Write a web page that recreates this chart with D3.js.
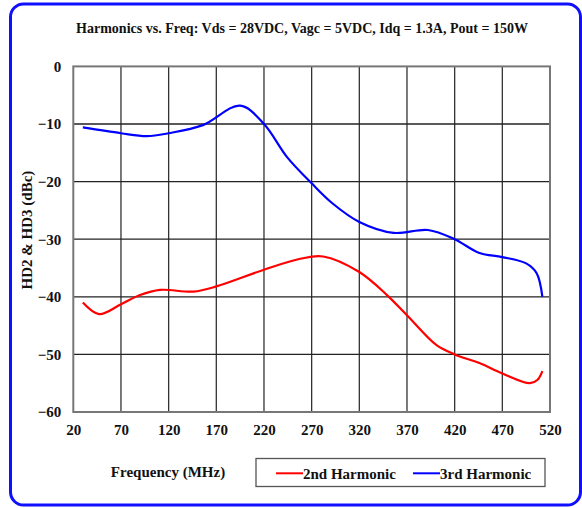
<!DOCTYPE html>
<html><head><meta charset="utf-8">
<script src="https://cdn.jsdelivr.net/npm/d3@7/dist/d3.min.js"></script>
<style>body{margin:0;background:#fff}svg{display:block}text{font-family:"Liberation Serif","Times New Roman",serif;font-weight:bold;fill:#111}</style>
</head><body>
<script>
const xTicks = [20,70,120,170,220,270,320,370,420,470,520];
const yTicks = [0,-10,-20,-30,-40,-50,-60];
const hd2Freq = [30,47,70,90,111,146,170,220,258,282,320,349,370,401,420,446,470,499,507,512];
const hd2Val  = [-41.0,-43.0,-41.3,-39.7,-38.8,-39.1,-38.2,-35.3,-33.4,-33.0,-35.7,-39.7,-43.2,-48.4,-50.0,-51.5,-53.3,-55.0,-54.4,-52.9];
const hd3Freq = [30,70,97,120,156,195,220,244,270,292,320,356,392,420,446,470,495,506,512];
const hd3Val  = [-10.6,-11.6,-12.1,-11.6,-10.2,-6.8,-10.0,-15.7,-20.3,-23.8,-27.0,-28.9,-28.4,-30.0,-32.4,-33.1,-34.2,-35.9,-40.0];
const seriesNames = ["2nd Harmonic","3rd Harmonic"];
const seriesColors = ["#ff0000","#0000ff"];

const W=582,H=508;
const svg=d3.select("body").append("svg").attr("width",W).attr("height",H);
svg.append("rect").attr("x",10.5).attr("y",4).attr("width",570).attr("height",501).attr("rx",13)
  .attr("fill","#fff").attr("stroke","#1010ff").attr("stroke-width",3);

const L=73.3,R=550,T=66.4,B=412;
const x=d3.scaleLinear().domain([20,520]).range([L,R]);
const y=d3.scaleLinear().domain([-60,0]).range([B,T]);

svg.append("text").attr("x",302).attr("y",33).attr("text-anchor","middle").attr("font-size",14)
  .text("Harmonics vs. Freq: Vds = 28VDC, Vagc = 5VDC, Idq = 1.3A, Pout = 150W");

const g=svg.append("g");
g.selectAll("line.vx").data(xTicks.slice(1,-1)).enter().append("line")
  .attr("x1",d=>x(d)).attr("x2",d=>x(d)).attr("y1",T).attr("y2",B).attr("stroke","#333").attr("stroke-width",1.3);
g.selectAll("line.hy").data(yTicks.slice(1,-1)).enter().append("line")
  .attr("y1",d=>y(d)).attr("y2",d=>y(d)).attr("x1",L).attr("x2",R).attr("stroke","#222").attr("stroke-width",1.3);
g.append("rect").attr("x",L).attr("y",T).attr("width",R-L).attr("height",B-T).attr("fill","none").attr("stroke","#777").attr("stroke-width",2);

const xa=svg.append("g").attr("transform",`translate(0,${B})`)
  .call(d3.axisBottom(x).tickValues(xTicks).tickSize(0).tickPadding(12).tickFormat(d3.format("d")));
xa.select(".domain").remove();
xa.selectAll("text").attr("font-size",15).attr("font-family","Liberation Serif").attr("font-weight","bold").attr("fill","#111");
const ya=svg.append("g").attr("transform",`translate(${L},0)`)
  .call(d3.axisLeft(y).tickValues(yTicks).tickSize(0).tickPadding(12).tickFormat(d3.format("d")));
ya.select(".domain").remove();
ya.selectAll("text").attr("font-size",15).attr("font-family","Liberation Serif").attr("font-weight","bold").attr("fill","#111");

svg.append("text").attr("transform","translate(32,230) rotate(-90)").attr("text-anchor","middle").attr("font-size",15)
  .text("HD2 & HD3 (dBc)");
svg.append("text").attr("x",168).attr("y",477).attr("text-anchor","middle").attr("font-size",15).text("Frequency (MHz)");

const line=d3.line().x(d=>x(d[0])).y(d=>y(d[1])).curve(d3.curveCatmullRom.alpha(0.5));
const series=[d3.zip(hd2Freq,hd2Val),d3.zip(hd3Freq,hd3Val)];
series.forEach((s,i)=>{
  svg.append("path").datum(s).attr("d",line).attr("fill","none").attr("stroke",seriesColors[i]).attr("stroke-width",2.2);
});

// legend
svg.append("rect").attr("x",256).attr("y",458.5).attr("width",289).attr("height",28).attr("fill","#fff").attr("stroke","#555").attr("stroke-width",1.3);
const lx=[276,413], tx=[303,440];
seriesNames.forEach((n,i)=>{
  svg.append("line").attr("x1",lx[i]).attr("x2",lx[i]+27).attr("y1",473.3).attr("y2",473.3).attr("stroke",seriesColors[i]).attr("stroke-width",2);
  svg.append("text").attr("x",tx[i]).attr("y",478.5).attr("font-size",15).text(n);
});
</script>
</body></html>
